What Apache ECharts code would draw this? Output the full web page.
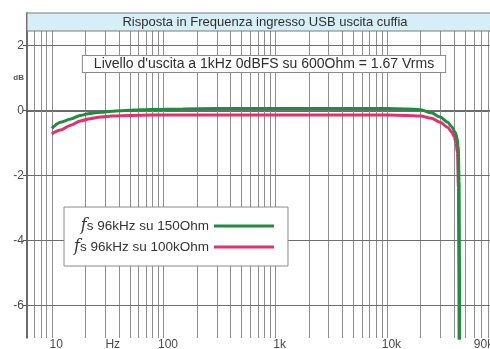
<!DOCTYPE html>
<html>
<head>
<meta charset="utf-8">
<script src="https://cdn.jsdelivr.net/npm/echarts@6/dist/echarts.min.js"></script>
<style>
  html, body { margin: 0; padding: 0; background: #ffffff; }
  #chart { width: 490px; height: 349px; }
</style>
</head>
<body>
<div id="chart"></div>
<script>
// Frequency response, USB input to headphone output (fs = 96 kHz)
const seriesNames = ['fs 96kHz su 150Ohm', 'fs 96kHz su 100kOhm'];

// 150 Ohm load
const freq150 = [10, 12, 14.8, 18, 22, 27.5, 35, 50, 77, 150, 300, 1000, 3000, 10000, 15000, 20000, 25000, 30000, 35000, 38000, 41000, 42500, 43500, 44300, 44800];
const db150   = [-0.55, -0.36, -0.26, -0.15, -0.09, -0.05, -0.02, 0.01, 0.03, 0.05, 0.06, 0.06, 0.06, 0.06, 0.05, 0.02, -0.07, -0.2, -0.36, -0.5, -0.68, -0.85, -1.1, -2.2, -7.5];

// 100 kOhm load
const freq100k = [10, 12, 14.8, 18, 22, 27.5, 35, 50, 80, 150, 1000, 10000, 15000, 20000, 25000, 30000, 35000, 38000, 40000, 41500, 42800, 43700, 44300];
const db100k   = [-0.72, -0.6, -0.45, -0.32, -0.25, -0.2, -0.17, -0.15, -0.14, -0.14, -0.14, -0.14, -0.15, -0.17, -0.24, -0.36, -0.52, -0.66, -0.8, -0.98, -1.3, -2.4, -7.5];

// Axis ticks and labels
const xTickValues = [10, 32, 100, 1000, 10000, 90000];
const xTickLabels = ['10', 'Hz', '100', '1k', '10k', '90k'];
const yTickValues = [-6, -4, -2, 0, 2];
const yLabelValues = [-6, -4, -2, 0, 1, 2];
const yLabelTexts = ['-6', '-4', '-2', '0', 'dB', '2'];

// Log-paper grid lines
const xGridFreqs = [7, 8, 9, 10, 20, 30, 40, 50, 60, 70, 80, 90, 100, 200, 300, 400, 500, 600, 700, 800, 900,
  1000, 2000, 3000, 4000, 5000, 6000, 7000, 8000, 9000, 10000, 20000, 30000, 40000, 50000, 60000, 70000, 80000, 90000];
const yGridValues = [-6, -4, -2, 0, 2];

const X_MIN = 6, X_MAX = 90000, Y_MIN = -7, Y_MAX = 3, BAND_BOTTOM = 2.45;

const FONT = '"Liberation Sans", Arial, sans-serif';
const GREEN = '#1f8d3d';
const PINK = '#e4306f';

const zip = (xs, ys) => xs.map((x, i) => [x, ys[i]]);

const chart = echarts.init(document.getElementById('chart'), null, { renderer: 'canvas' });

chart.setOption({
  animation: false,
  backgroundColor: '#ffffff',
  grid: { left: 27, top: 13, width: 466.5, bottom: 11, containLabel: false, outerBoundsMode: 'none' },
  xAxis: {
    type: 'log',
    logBase: 10,
    min: X_MIN,
    max: X_MAX,
    axisLine: { show: true, lineStyle: { color: '#3a3a3a', width: 1.5 } },
    axisTick: { show: false },
    splitLine: { show: false },
    axisLabel: {
      customValues: xTickValues,
      margin: 1,
      color: '#4a4a4a',
      fontSize: 12,
      fontFamily: FONT,
      formatter: (v) => {
        const i = xTickValues.findIndex(t => Math.abs(t - v) / t < 1e-6);
        const txt = i >= 0 ? xTickLabels[i] : '';
        return i === xTickValues.length - 1 ? '{b|' + txt + '}' : '{a|' + txt + '}';
      },
      rich: {
        a: { padding: [0, 0, 0, 9], fontSize: 12, color: '#4a4a4a', fontFamily: FONT },
        b: { padding: [0, 20, 0, 0], fontSize: 12, color: '#4a4a4a', fontFamily: FONT }
      }
    }
  },
  yAxis: {
    type: 'value',
    min: Y_MIN,
    max: Y_MAX,
    axisLine: { show: true, lineStyle: { color: '#3a3a3a', width: 1.5 } },
    axisTick: { show: true, customValues: yTickValues, length: 4, inside: false, lineStyle: { color: '#555' } },
    splitLine: { show: false },
    axisLabel: {
      customValues: yLabelValues,
      margin: 3,
      color: '#4a4a4a',
      fontSize: 12,
      fontFamily: FONT,
      formatter: (v) => {
        const i = yLabelValues.indexOf(v);
        return i >= 0 ? (v === 1 ? '{u|' + yLabelTexts[i] + '}' : yLabelTexts[i]) : '';
      },
      rich: { u: { fontSize: 8, fontWeight: 'bold', color: '#555', fontFamily: FONT } }
    }
  },
  legend: {
    data: seriesNames,
    orient: 'vertical',
    left: 64,
    top: 207,
    align: 'right',
    icon: 'rect',
    itemWidth: 60,
    itemHeight: 3,
    itemGap: 5,
    padding: [11, 14, 11, 10],
    backgroundColor: '#ffffff',
    borderColor: '#8a8a8a',
    borderWidth: 1,
    selectedMode: false,
    z: 20,
    formatter: (name) => '{i|f}' + name.slice(1),
    textStyle: {
      color: '#333',
      fontSize: 13.5,
      fontFamily: FONT,
      rich: {
        i: { fontStyle: 'italic', fontSize: 16, fontFamily: '"DejaVu Serif", serif', color: '#333' }
      }
    }
  },
  graphic: [
    {
      type: 'rect',
      z: 100,
      shape: { x: 27, y: 13, width: 470, height: 18 },
      style: { fill: '#d6eff6', stroke: '#7a7a7a', lineWidth: 1 }
    },
    {
      type: 'text',
      z: 101,
      style: {
        x: 265, y: 22.5,
        text: 'Risposta in Frequenza ingresso USB uscita cuffia',
        font: '13px ' + FONT,
        fill: '#2e2e2e',
        align: 'center',
        verticalAlign: 'middle'
      }
    },
    {
      type: 'text',
      z: 101,
      style: {
        x: 264, y: 64,
        text: "Livello d'uscita a 1kHz 0dBFS su 600Ohm = 1.67 Vrms",
        font: '14px ' + FONT,
        fill: '#2e2e2e',
        align: 'center',
        verticalAlign: 'middle',
        backgroundColor: '#ffffff',
        borderColor: '#8a8a8a',
        borderWidth: 1,
        padding: [1, 11, 1, 11]
      }
    }
  ],
  series: [
    {
      name: 'grid',
      type: 'line',
      data: [],
      silent: true,
      z: 1,
      markLine: {
        silent: true,
        z: 1,
        symbol: ['none', 'none'],
        label: { show: false },
        animation: false,
        lineStyle: { color: '#8e8e8e', width: 1, type: 'solid' },
        data: xGridFreqs.map(f => [{ coord: [f, Y_MIN] }, { coord: [f, BAND_BOTTOM] }])
          .concat(yGridValues.map(v => [
            { coord: [X_MIN, v], lineStyle: { color: '#6e6e6e', width: 1 } },
            { coord: [X_MAX, v] }
          ]))
      }
    },
    {
      name: seriesNames[0],
      type: 'line',
      data: zip(freq150, db150),
      showSymbol: false,
      symbol: 'none',
      smooth: 0.3,
      smoothMonotone: 'x',
      clip: true,
      z: 4,
      color: GREEN,
      lineStyle: { color: GREEN, width: 3 }
    },
    {
      name: seriesNames[1],
      type: 'line',
      data: zip(freq100k, db100k),
      showSymbol: false,
      symbol: 'none',
      smooth: 0.3,
      smoothMonotone: 'x',
      clip: true,
      z: 3,
      color: PINK,
      lineStyle: { color: PINK, width: 3 }
    }
  ]
});
</script>
</body>
</html>
